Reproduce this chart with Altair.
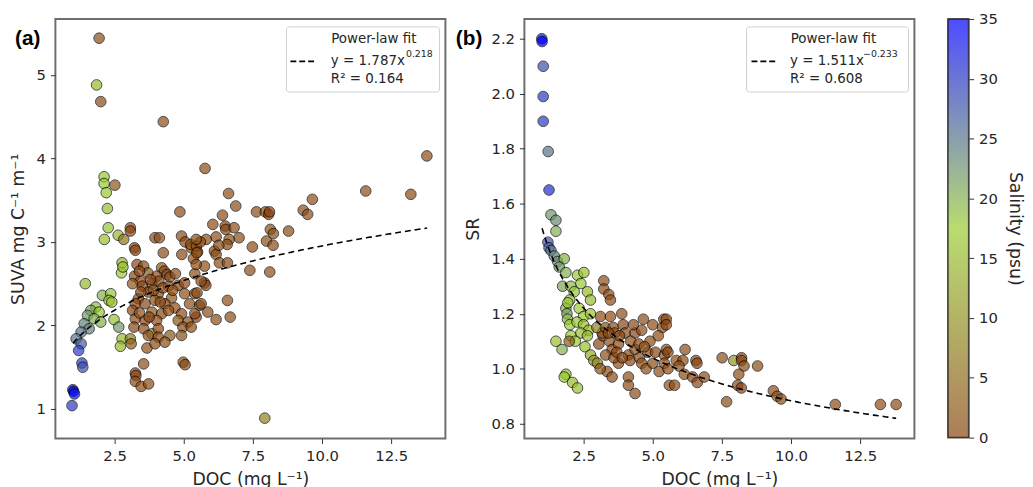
import altair as alt
import pandas as pd

# ---- panel (a): DOC vs SUVA, coloured by salinity ----
doc_a = [1.94, 1.85, 2.00, 4.26, 5.77, 13.79, 11.58, 13.21, 6.62, 6.88, 9.65, 9.32, 9.48, 7.63, 7.95,
         8.07, 8.10, 6.40, 4.86, 6.05, 6.50, 6.52, 6.82, 7.00, 6.17, 6.64, 6.57, 5.81, 6.11, 6.17,
         8.13, 8.24, 8.79, 7.99, 8.23, 7.48, 6.29, 6.58, 7.39, 8.11, 5.75, 5.75, 5.80, 6.58, 6.68,
         6.17, 5.87, 5.57, 5.45, 7.93,
         2.12, 2.12, 2.20, 2.51, 2.24, 2.27, 2.13, 2.63, 2.83, 3.07, 3.07, 2.77, 2.75, 2.80, 1.44,
         2.06, 2.36, 2.30, 2.40, 1.82, 1.64, 1.94, 1.52, 1.76, 2.00, 2.48, 1.40, 1.58, 1.29, 2.65,
         1.11, 1.29, 1.20, 1.32, 1.35, 0.99, 1.02, 1.05, 0.96, 2.77, 3.07, 2.71, 3.10, 3.67, 3.55,
         3.25, 3.27, 3.25, 3.46, 3.73, 4.98, 5.05, 3.85,
         3.96, 4.92, 5.05, 5.27, 5.50, 4.93, 5.35, 3.31, 3.55, 4.20, 4.30, 4.40, 4.50, 4.02, 3.70,
         3.22, 3.43, 3.85, 4.10, 3.15, 3.50, 4.45, 4.80, 5.03, 5.40, 5.63, 3.72, 4.08, 4.56, 5.03,
         5.40, 3.36, 3.25, 3.60, 3.96, 4.32, 4.68, 5.21, 5.63, 3.15, 3.85, 4.20, 4.92, 5.40, 3.25,
         3.60, 4.02, 4.80, 5.15, 3.20, 3.55, 4.08, 4.97, 3.72, 4.08, 4.50, 4.92, 5.27, 3.96, 4.32,
         3.22, 3.25, 4.12, 4.26, 5.25, 5.46, 5.60, 6.27, 5.45, 5.47, 5.45, 5.48,
         3.40, 3.80, 4.25, 3.90, 4.60, 3.45, 4.15, 4.45, 3.75, 3.40, 4.70]
suva_a = [5.44, 4.88, 4.68, 4.44, 3.88, 4.03, 3.61, 3.57, 3.58, 3.43, 3.51, 3.38, 3.33, 3.36, 3.36,
          3.33, 3.36, 3.32, 3.36, 3.21, 3.19, 3.15, 3.17, 3.05, 3.06, 3.03, 2.97, 3.03, 2.89, 2.85,
          3.15, 3.10, 3.13, 3.01, 2.96, 2.94, 2.75, 2.75, 2.66, 2.64, 2.71, 2.51, 2.48, 2.30, 2.10,
          2.07, 2.16, 2.24, 2.10, 0.89,
          3.78, 3.70, 3.59, 3.68, 3.40, 3.17, 3.03, 3.08, 3.03, 3.17, 3.13, 2.75, 2.63, 2.70, 2.50,
          2.36, 2.38, 2.30, 2.28, 2.22, 2.18, 2.16, 2.12, 2.08, 2.04, 2.07, 2.02, 1.96, 1.92, 1.98,
          1.84, 1.78, 1.70, 1.55, 1.50, 1.23, 1.21, 1.18, 1.04, 1.84, 1.84, 1.75, 1.78, 1.73, 1.54,
          1.43, 1.40, 1.33, 1.27, 1.30, 1.56, 1.53, 1.90,
          3.05, 3.07, 3.00, 2.93, 2.88, 2.85, 2.80, 2.73, 2.71, 2.69, 2.65, 2.61, 2.58, 2.59, 2.63,
          2.59, 2.53, 2.50, 2.53, 2.50, 2.47, 2.47, 2.48, 2.51, 2.62, 2.53, 2.40, 2.38, 2.33, 2.38,
          2.38, 2.32, 2.26, 2.26, 2.30, 2.26, 2.21, 2.26, 2.26, 2.18, 2.16, 2.14, 2.14, 2.14, 2.08,
          2.06, 2.06, 2.06, 2.04, 1.98, 1.96, 1.96, 1.98, 1.88, 1.86, 1.88, 1.88, 1.98, 1.78, 1.80,
          2.93, 2.90, 3.05, 2.87, 2.97, 2.95, 3.00, 2.96, 3.03, 2.87, 2.73, 2.39,
          2.65, 2.55, 2.45, 2.42, 2.42, 2.40, 2.28, 2.18, 2.10, 2.15, 2.62]
sal_a = [1, 15, 1, 1, 1, 1, 1, 1, 1, 1, 1, 1, 1, 1, 1,
         0, 0, 1, 1, 1, 0, 0, 1, 1, 1, 1, 1, 1, 1, 1,
         1, 1, 1, 1, 1, 1, 1, 0, 1, 1, 1, 0, 0, 1, 1,
         1, 1, 0, 0, 8,
         17, 17, 17, 2, 15, 18, 16, 15, 6, 0, 0, 15, 17, 16, 15,
         20, 18, 17, 16, 19, 21, 18, 22, 20, 20, 16, 24, 24, 25, 22,
         25, 27, 30, 30, 28, 34, 35, 33, 30, 15, 8, 15, 3, 1, 1,
         0, 0, 1, 1, 1, 1, 1, 10,
         1, 1, 0, 1, 1, 0, 1, 0, 1, 2, 0, 0, 1, 1, 2,
         0, 0, 1, 0, 2, 0, 1, 1, 0, 1, 1, 0, 1, 2, 1,
         0, 1, 0, 0, 1, 0, 1, 1, 1, 0, 2, 0, 1, 0, 1,
         0, 1, 2, 1, 0, 1, 0, 1, 1, 0, 2, 1, 1, 1, 1,
         0, 0, 1, 1, 1, 1, 1, 1, 1, 1, 1, 1,
         0, 0, 0, 1, 1, 0, 0, 1, 0, 1, 1]

# ---- panel (b): DOC vs SR, coloured by salinity ----
doc_b = [0.99, 1.00, 1.04, 1.04, 1.04, 1.22, 1.25, 1.32, 1.50, 1.50, 1.21, 1.25, 1.32, 1.44, 1.56,
         1.80, 1.62, 1.86, 2.28, 2.51, 2.40, 1.74, 2.04, 2.16, 2.64, 2.75, 2.00, 3.23, 3.23, 3.41,
         3.47, 1.86, 1.90, 1.93, 2.34, 2.50, 2.75, 1.92, 2.00, 2.26, 2.50, 2.68, 2.40, 2.64, 2.04,
         2.20, 1.50, 1.72, 1.98, 2.55, 2.75, 2.87, 3.00, 3.05, 3.20, 3.17, 2.98, 3.11, 3.47, 3.88,
         3.29, 3.57, 3.93, 3.63, 4.00, 4.36, 4.60, 4.66, 5.00, 5.40, 5.35, 3.43, 3.53, 3.30, 3.76,
         4.12, 4.36, 4.18, 4.52, 4.82, 4.60, 4.76, 5.00, 5.10, 5.42, 5.23, 5.42, 3.35, 3.10, 3.53,
         3.76, 3.60, 1.86, 1.80, 2.10, 2.28, 4.12, 4.12, 4.36, 5.60, 5.49, 5.49, 5.49, 5.55, 6.17,
         5.85, 6.09, 6.56, 6.60, 5.55, 5.95, 6.14, 5.79, 6.44, 6.61, 6.86, 7.51, 7.93, 8.21, 8.21,
         8.30, 8.79, 8.11, 8.07, 8.20, 7.67, 9.36, 9.50, 9.64, 11.60, 13.23, 13.80,
         3.80, 4.20, 4.50, 3.40, 3.70, 4.90, 5.20, 4.30, 3.90, 4.70]
sr_b = [2.20, 2.19, 2.10, 1.99, 1.90, 1.79, 1.65, 1.56, 1.54, 1.50, 1.46, 1.44, 1.43, 1.41, 1.39,
        1.40, 1.37, 1.35, 1.34, 1.35, 1.31, 1.30, 1.30, 1.28, 1.28, 1.25, 1.25, 1.32, 1.29, 1.27,
        1.25, 1.22, 1.20, 1.24, 1.22, 1.19, 1.20, 1.18, 1.16, 1.17, 1.16, 1.14, 1.13, 1.12, 1.12,
        1.10, 1.10, 1.07, 1.10, 1.08, 1.05, 1.03, 1.02, 1.09, 1.12, 1.13, 1.15, 1.19, 1.19, 1.20,
        1.15, 1.15, 1.16, 1.13, 1.13, 1.13, 1.14, 1.18, 1.16, 1.18, 1.15, 1.10, 1.07, 1.05, 1.09,
        1.05, 1.07, 1.03, 1.04, 1.06, 1.02, 1.00, 1.02, 1.06, 1.05, 0.99, 1.02, 0.99, 1.00, 0.97,
        1.02, 1.04, 0.98, 0.97, 0.95, 0.93, 0.97, 0.94, 0.91, 0.94, 1.18, 1.16, 1.07, 1.06, 1.07,
        1.03, 1.03, 1.03, 1.02, 1.00, 1.01, 0.98, 0.94, 0.97, 0.95, 0.97, 1.04, 1.03, 1.04, 1.03,
        1.01, 1.01, 0.98, 0.94, 0.93, 0.88, 0.92, 0.90, 0.89, 0.87, 0.87, 0.87,
        1.12, 1.10, 1.09, 1.13, 1.06, 1.10, 1.12, 1.16, 1.04, 1.08]
sal_b = [34, 35, 28, 30, 30, 25, 31, 22, 23, 20, 28, 27, 25, 24, 23,
         20, 22, 20, 17, 16, 17, 21, 19, 18, 15, 15, 18, 1, 1, 1,
         1, 20, 21, 18, 17, 17, 16, 19, 17, 17, 16, 15, 16, 15, 17,
         17, 16, 20, 3, 16, 13, 10, 8, 0, 1, 0, 8, 1, 1, 1,
         1, 1, 0, 1, 1, 0, 1, 1, 1, 1, 1, 1, 0, 1, 1,
         1, 1, 0, 1, 1, 1, 1, 1, 0, 1, 1, 1, 1, 2, 1,
         1, 1, 16, 17, 15, 16, 1, 1, 1, 1, 1, 0, 1, 0, 1,
         1, 1, 0, 0, 1, 1, 1, 1, 0, 0, 1, 1, 10, 0, 0,
         1, 1, 1, 0, 0, 1, 1, 1, 1, 1, 1, 1,
         0, 1, 0, 1, 0, 1, 1, 0, 1, 1]

# power-law fits as printed in the legends: y = coef * x ** expo
fit_a = {"coef": 1.787, "expo": 0.218, "expo_txt": "0.218", "r2": "0.164"}
fit_b = {"coef": 1.511, "expo": -0.233, "expo_txt": "\u22120.233", "r2": "0.608"}

sal_ticks = [0, 5, 10, 15, 20, 25, 30, 35]
doc_ticks = [2.5, 5.0, 7.5, 10.0, 12.5]

BROWN, GREEN, BLUE = "#8b4513", "#9acd32", "#0000ff"
FONT = "DejaVu Sans"
W, H = 395, 425
XDOM = [0.36, 14.46]

sal_scale = alt.Scale(domain=[0, 17.5, 35], range=[BROWN, GREEN, BLUE], interpolate="rgb")
one = alt.Data(values=[{}])


def txt(s, x, y, size=13.6, align="left", **kw):
    return alt.Chart(one).mark_text(align=align, baseline="middle", font=FONT, fontSize=size,
                                    color="#262626", **kw).encode(
        x=alt.value(x), y=alt.value(y), text=alt.value(s))


def panel(df, yfield, ytitle, ydom, yticks, yfmt, fit, tag, tag_x, lx):
    x = alt.X("doc:Q", scale=alt.Scale(domain=XDOM, nice=False, zero=False),
              axis=alt.Axis(values=doc_ticks, format=".1f", title="DOC (mg L\u207b\u00b9)",
                            titlePadding=7))
    y = alt.Y(f"{yfield}:Q", scale=alt.Scale(domain=ydom, nice=False, zero=False),
              axis=alt.Axis(values=yticks, format=yfmt, title=ytitle, titlePadding=9))

    pts = alt.Chart(df).mark_circle(size=115, opacity=0.7, stroke="black", strokeWidth=1).encode(
        x=x, y=y, color=alt.Color("sal:Q", scale=sal_scale, legend=None))

    line = (alt.Chart(alt.sequence(1.0, 13.85, 0.05, as_="doc"))
            .transform_calculate(**{yfield: f"{fit['coef']} * pow(datum.doc, {fit['expo']})"})
            .mark_line(color="black", strokeDash=[6, 4], strokeWidth=1.6)
            .encode(x=x, y=y))

    # legend box in the upper right corner
    box = alt.Chart(one).mark_rect(fill="white", stroke="#cccccc", cornerRadius=3, opacity=0.9).encode(
        x=alt.value(lx[0]), x2=alt.value(389), y=alt.value(8), y2=alt.value(74))
    dash = alt.Chart(one).mark_rule(color="black", strokeDash=[6, 3], strokeWidth=1.8).encode(
        x=alt.value(lx[1]), x2=alt.value(lx[1] + 26), y=alt.value(43))
    head = txt("Power-law fit", (lx[2] + 366) / 2 if tag == "(a)" else lx[2] + 44, 20, align="center")
    eq = txt(f"y = {fit['coef']}x", lx[2], 43)
    ex = txt(fit["expo_txt"], lx[3], 36, size=9.5)
    r2 = txt(f"R\u00b2 = {fit['r2']}", lx[2], 61)
    label = alt.Chart(one).mark_text(font="Liberation Sans", fontSize=21, fontWeight="bold",
                                     align="center", baseline="middle", color="black").encode(
        x=alt.value(tag_x), y=alt.value(20), text=alt.value(tag))

    return alt.layer(pts, line, box, dash, head, eq, ex, r2, label).properties(width=W, height=H)


df_a = pd.DataFrame({"doc": doc_a, "suva": suva_a, "sal": sal_a})
df_b = pd.DataFrame({"doc": doc_b, "sr": sr_b, "sal": sal_b})

pa = panel(df_a, "suva", "SUVA mg C\u207b\u00b9 m\u207b\u00b9", [0.645, 5.67], [1, 2, 3, 4, 5], "d",
           fit_a, "(a)", -28, [234, 238, 279, 355])
pb = panel(df_b, "sr", "SR", [0.746, 2.272], [0.8, 1.0, 1.2, 1.4, 1.6, 1.8, 2.0, 2.2], ".1f",
           fit_b, "(b)", -56, [225, 230, 269, 343])

# colour bar for salinity
grad = alt.Gradient(gradient="linear", x1=0, x2=0, y1=1, y2=0,
                    stops=[alt.GradientStop(color=BROWN, offset=0),
                           alt.GradientStop(color=GREEN, offset=0.5),
                           alt.GradientStop(color=BLUE, offset=1)])
cb_data = alt.Data(values=[{"lo": 0, "hi": 35}])
cb_y = alt.Y("lo:Q", scale=alt.Scale(domain=[0, 35], nice=False),
             axis=alt.Axis(orient="right", values=sal_ticks, title="Salinity (psu)",
                           titlePadding=8, labelPadding=5))
cb_fill = alt.Chart(cb_data).mark_rect(color=grad, opacity=0.7).encode(
    y=cb_y, y2="hi:Q", x=alt.value(0), x2=alt.value(21))
cb_edge = alt.Chart(cb_data).mark_rect(fill=None, stroke="#333333", strokeWidth=1).encode(
    y=cb_y, y2="hi:Q", x=alt.value(0), x2=alt.value(21))
cb = alt.layer(cb_fill, cb_edge).properties(width=21, height=424)

chart = (
    alt.hconcat(alt.hconcat(pa, pb, spacing=8), cb, spacing=31)
    .properties(padding=0)
    .configure_view(stroke="#6e6e6e", strokeWidth=2)
    .configure_axis(labelFont=FONT, titleFont=FONT, labelFontSize=15, titleFontSize=17.5,
                    titleFontWeight="normal", labelColor="#262626", titleColor="#262626",
                    tickColor="#333333", tickSize=5, grid=False, domain=False, labelPadding=5)
)

chart.save("out.html", embed_options={"renderer": "svg", "actions": False})
